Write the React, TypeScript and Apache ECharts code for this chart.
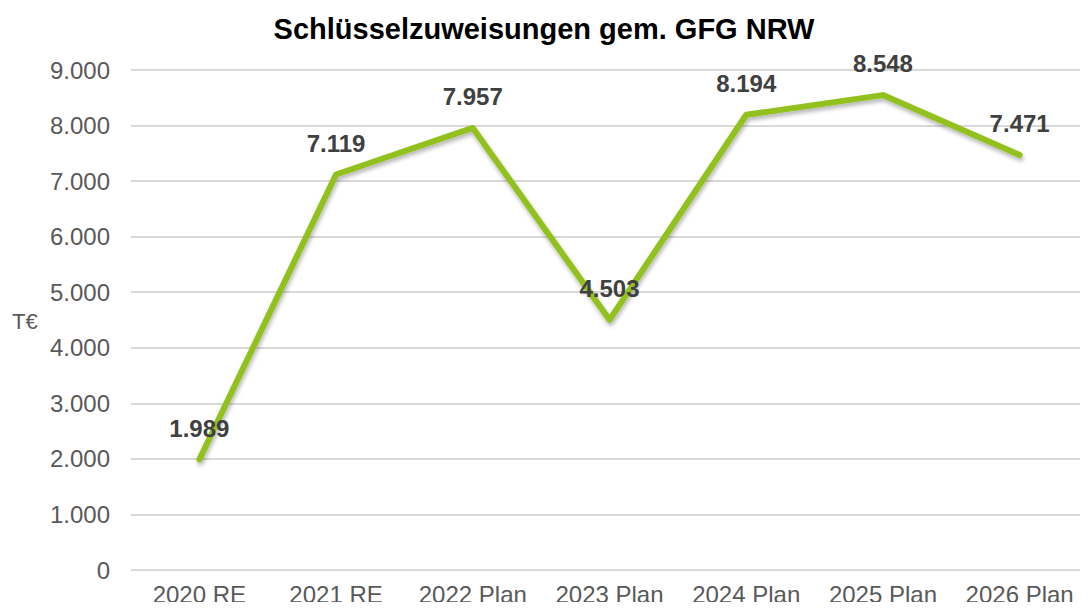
import React, { useEffect, useRef } from "react";
import * as echarts from "echarts";

const categories = ["2020 RE", "2021 RE", "2022 Plan", "2023 Plan", "2024 Plan", "2025 Plan", "2026 Plan"];
const values = [1989, 7119, 7957, 4503, 8194, 8548, 7471];

const fmt = (v: number) => {
  if (v === 0) return "0";
  const s = Math.round(v).toString();
  return s.replace(/\B(?=(\d{3})+(?!\d))/g, ".");
};

export default function App() {
  const ref = useRef<HTMLDivElement>(null);
  useEffect(() => {
    if (!ref.current) return;
    const chart = echarts.init(ref.current, undefined, { renderer: "svg" });
    chart.setOption({
      animation: false,
      backgroundColor: "#ffffff",
      title: {
        text: "Schlüsselzuweisungen gem. GFG NRW",
        left: "center",
        top: 9,
        textStyle: { fontFamily: "Liberation Sans", fontSize: 29, fontWeight: "bold", color: "#000000" },
      },
      graphic: [
        {
          type: "text",
          left: 12,
          top: 310,
          style: { text: "T€", fontFamily: "Liberation Sans", fontSize: 22, fill: "#595959" },
        },
      ],
      grid: { left: 131, right: -7, top: 70, bottom: 40, containLabel: false },
      xAxis: {
        type: "category",
        data: categories,
        boundaryGap: true,
        axisLine: { show: false },
        axisTick: { show: false },
        axisLabel: { fontFamily: "Liberation Sans", fontSize: 24, lineHeight: 24, color: "#595959", margin: 12, interval: 0 },
      },
      yAxis: {
        type: "value",
        min: 0,
        max: 9000,
        interval: 1000,
        axisLine: { show: false },
        axisTick: { show: false },
        axisLabel: { fontFamily: "Liberation Sans", fontSize: 24, color: "#595959", margin: 21, formatter: (v: number) => fmt(v) },
        splitLine: { lineStyle: { color: "#d9d9d9", width: 2 } },
      },
      series: [
        {
          type: "line",
          data: values,
          symbol: "circle",
          symbolSize: 1,
          showSymbol: true,
          itemStyle: { color: "rgba(0,0,0,0)" },
          lineStyle: {
            color: "#92c01f",
            width: 6,
            cap: "round",
            join: "round",
            shadowColor: "rgba(0,0,0,0.3)",
            shadowBlur: 4,
            shadowOffsetX: 1,
            shadowOffsetY: 3,
          },
          label: {
            show: true,
            position: "top",
            distance: 19,
            fontFamily: "Liberation Sans",
            fontSize: 24,
            fontWeight: "bold",
            color: "#404040",
            formatter: (p: any) => fmt(p.value),
          },
        },
      ],
    });
    return () => chart.dispose();
  }, []);
  return <div ref={ref} style={{ width: 1088, height: 610, margin: -8 }} />;
}
